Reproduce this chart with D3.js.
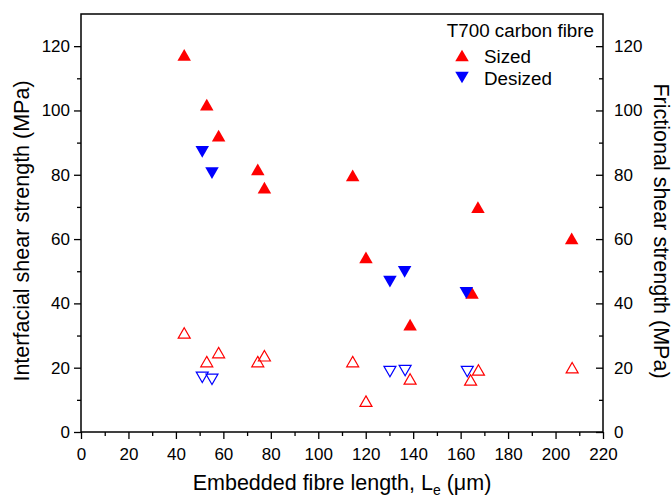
<!DOCTYPE html>
<html>
<head>
<meta charset="utf-8">
<script src="https://cdn.jsdelivr.net/npm/d3@7"></script>
<style>
  body { margin: 0; background: #fff; }
  svg text { font-family: "Liberation Sans", Arial, sans-serif; fill: #000; }
</style>
</head>
<body>
<div id="chart"></div>
<script>
// embedded length (um) and strengths (MPa)
var sizedLength = [43.5, 53, 58, 74.5, 77.3, 114.5, 120.1, 138.7, 164.8, 167.3, 206.8];
var sizedIFSS = [117.3, 101.8, 92.2, 81.7, 76, 79.8, 54.3, 33.4, 43.3, 69.9, 60.2];
var sizedFrictLength = [43.5, 53, 58, 74.5, 77.3, 114.5, 120.1, 138.7, 164.2, 167.5, 207];
var sizedFrict = [30.8, 21.9, 24.7, 21.9, 23.7, 21.9, 9.6, 16.5, 16.2, 19.3, 20];

var desizedLength = [51.1, 55.2, 130.2, 136.4, 162.4];
var desizedIFSS = [87.1, 80.5, 46.8, 49.8, 43.3];
var desizedFrictLength = [51.1, 55.2, 130.2, 136.6, 162.8];
var desizedFrict = [17.0, 16.4, 18.8, 19.1, 18.8];

var xTicks = d3.range(0, 221, 20);
var yTicks = d3.range(0, 121, 20);

(function() {
  "use strict";

  var width = 672, height = 500;
  var left = 81, right = 603, top = 14, bottom = 432;

  var svg = d3.select("#chart").append("svg")
    .attr("width", width)
    .attr("height", height);

  var x = d3.scaleLinear().domain([0, 220]).range([left, right]);
  var y = d3.scaleLinear().domain([0, 130]).range([bottom, top]);
  var y2 = d3.scaleLinear().domain([0, 130]).range([bottom, top]);

  var red = "#ff0000", blue = "#0000ff";

  // triangle centred on its bounding box, like the plotting software does
  function tri(w) {
    var h = w * 0.87;
    return `M0,${-h / 2}L${w / 2},${h / 2}L${-w / 2},${h / 2}Z`;
  }

  // axes
  var bottomAxis = d3.axisBottom(x).tickValues(xTicks).tickSize(7).tickPadding(9);
  var bottomMinor = d3.axisBottom(x).tickValues(d3.range(10, 220, 20)).tickSize(4).tickFormat("");
  var leftAxis = d3.axisLeft(y).tickValues(yTicks).tickSize(7).tickPadding(4);
  var leftMinor = d3.axisLeft(y).tickValues(d3.range(10, 130, 20)).tickSize(4).tickFormat("");
  var rightAxis = d3.axisRight(y2).tickValues(yTicks).tickSize(-7).tickPadding(11);
  var rightMinor = d3.axisRight(y2).tickValues(d3.range(10, 130, 20)).tickSize(-4).tickFormat("");

  function styleAxis(g) {
    g.select(".domain").remove();
    g.selectAll("line").attr("stroke", "#000").attr("stroke-width", 1.3);
    g.selectAll("text").attr("font-size", 17).attr("fill", "#000")
      .attr("font-family", "Liberation Sans, Arial, sans-serif");
  }

  svg.append("g").attr("transform", `translate(0,${bottom})`).call(bottomAxis).call(styleAxis);
  svg.append("g").attr("transform", `translate(0,${bottom})`).call(bottomMinor).call(styleAxis);
  svg.append("g").attr("transform", `translate(${left},0)`).call(leftAxis).call(styleAxis);
  svg.append("g").attr("transform", `translate(${left},0)`).call(leftMinor).call(styleAxis);
  svg.append("g").attr("transform", `translate(${right},0)`).call(rightAxis).call(styleAxis);
  svg.append("g").attr("transform", `translate(${right},0)`).call(rightMinor).call(styleAxis);

  // frame
  svg.append("rect")
    .attr("x", left).attr("y", top)
    .attr("width", right - left).attr("height", bottom - top)
    .attr("fill", "none").attr("stroke", "#000").attr("stroke-width", 1.5);

  function points(xs, ys, scale, color, filled, down) {
    svg.append("g").selectAll("path")
      .data(xs.map(function(v, i) { return [v, ys[i]]; }))
      .join("path")
      .attr("d", filled ? tri(13.5) : tri(12))
      .attr("transform", function(d) {
        return `translate(${x(d[0])},${scale(d[1])})` + (down ? " rotate(180)" : "");
      })
      .attr("fill", filled ? color : "none")
      .attr("stroke", filled ? "none" : color)
      .attr("stroke-width", 1.2);
  }

  points(sizedFrictLength, sizedFrict, y2, red, false, false);
  points(desizedFrictLength, desizedFrict, y2, blue, false, true);
  points(sizedLength, sizedIFSS, y, red, true, false);
  points(desizedLength, desizedIFSS, y, blue, true, true);

  // axis titles
  var xTitle = svg.append("text")
    .attr("x", (left + right) / 2).attr("y", 490)
    .attr("text-anchor", "middle").attr("font-size", 21.5);
  xTitle.append("tspan").text("Embedded fibre length, L");
  xTitle.append("tspan").text("e").attr("font-size", 14).attr("dy", 5);
  xTitle.append("tspan").text(" (\u03bcm)").attr("dy", -5);

  svg.append("text")
    .attr("transform", `translate(29,${(top + bottom) / 2 + 8}) rotate(-90)`)
    .attr("text-anchor", "middle").attr("font-size", 21.5)
    .text("Interfacial shear strength (MPa)");

  svg.append("text")
    .attr("transform", `translate(654,${(top + bottom) / 2 + 8}) rotate(90)`)
    .attr("text-anchor", "middle").attr("font-size", 21.5)
    .text("Frictional shear strength (MPa)");

  // legend
  svg.append("text")
    .attr("x", 594).attr("y", 37).attr("font-size", 18.8)
    .attr("text-anchor", "end")
    .text("T700 carbon fibre");

  var legend = [["Sized", red, false], ["Desized", blue, true]];
  legend.forEach(function(item, i) {
    var ly = 55.5 + i * 22;
    svg.append("path")
      .attr("d", tri(13.5))
      .attr("transform", `translate(462,${ly})` + (item[2] ? " rotate(180)" : ""))
      .attr("fill", item[1]);
    svg.append("text")
      .attr("x", 484).attr("y", ly + 7).attr("font-size", 18.8)
      .text(item[0]);
  });
})();
</script>
</body>
</html>
